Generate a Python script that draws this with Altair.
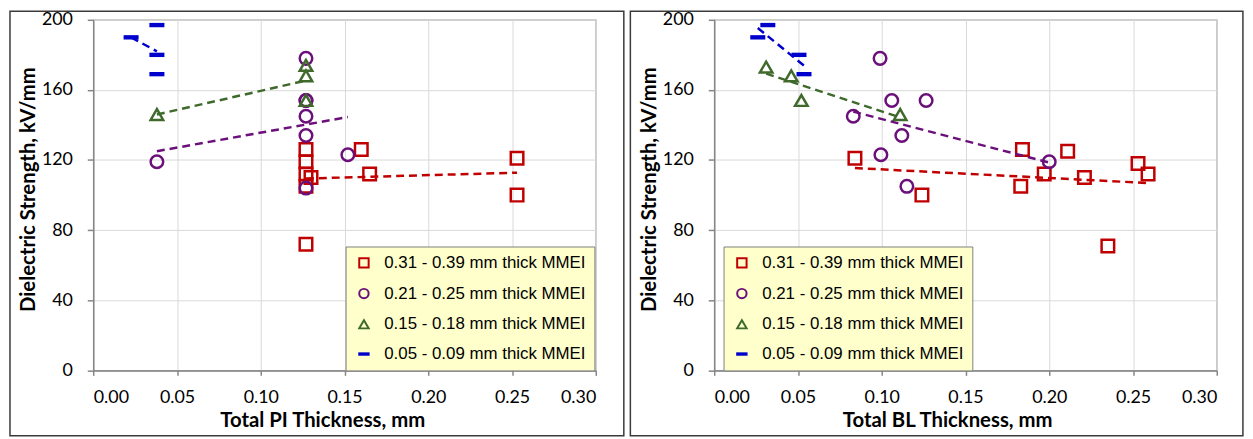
import altair as alt
import pandas as pd

series = ["0.31 - 0.39 mm thick MMEI", "0.21 - 0.25 mm thick MMEI",
          "0.15 - 0.18 mm thick MMEI", "0.05 - 0.09 mm thick MMEI"]
colors = ["#C00000", "#6B0F7A", "#3F6A2C", "#0000CC"]
dash_path = "M-1,-0.15L1,-0.15L1,0.15L-1,0.15Z"
shapes = ["square", "circle", "triangle-up", dash_path]

# Left panel: Total PI thickness
pi_red_x = [0.127, 0.127, 0.127, 0.127, 0.127, 0.130, 0.160, 0.165, 0.253, 0.253]
pi_red_y = [126, 119, 112, 105, 72, 110, 126, 112, 121, 100]
pi_pur_x = [0.038, 0.127, 0.127, 0.127, 0.127, 0.127, 0.127, 0.152]
pi_pur_y = [119, 178, 154, 154, 145, 134, 104, 123]
pi_grn_x = [0.038, 0.127, 0.127, 0.127]
pi_grn_y = [146, 174, 168, 154]
pi_blu_x = [0.0226, 0.038, 0.038, 0.038]
pi_blu_y = [190, 197, 180, 169]

# Right panel: Total BL thickness
bl_red_x = [0.084, 0.124, 0.184, 0.183, 0.197, 0.211, 0.221, 0.235, 0.253, 0.259]
bl_red_y = [121, 100, 126, 105, 112, 125, 110, 71, 118, 112]
bl_pur_x = [0.083, 0.099, 0.0995, 0.106, 0.112, 0.115, 0.1265, 0.200]
bl_pur_y = [145, 178, 123, 154, 134, 105, 154, 119]
bl_grn_x = [0.031, 0.046, 0.052, 0.111]
bl_grn_y = [173, 168, 154, 146]
bl_blu_x = [0.026, 0.032, 0.0506, 0.0536]
bl_blu_y = [190, 197, 180, 169]

x_ticks = [0.0, 0.05, 0.10, 0.15, 0.20, 0.25, 0.30]
y_ticks = [0, 40, 80, 120, 160, 200]

W, H = 507, 353.7


def frame_df(groups):
    rows = []
    for name, xs, ys in groups:
        for xv, yv in zip(xs, ys):
            rows.append({"x": xv, "y": yv, "series": name})
    return pd.DataFrame(rows)


def panel(df, xtitle, legend_x, title_x, frame_x1, frame_x2):
    xs = alt.X("x:Q", title=xtitle,
               scale=alt.Scale(domain=[0, 0.30], nice=False, zero=False),
               axis=alt.Axis(values=x_ticks, format=".2f", tickSize=5,
                             labelPadding=27, labelBaseline="alphabetic",
                             titleX=title_x, titleY=57, titleBaseline="alphabetic"))
    ys = alt.Y("y:Q", title="Dielectric Strength, kV/mm",
               scale=alt.Scale(domain=[0, 200], nice=False),
               axis=alt.Axis(values=y_ticks, tickSize=6, labelPadding=15,
                             titleX=-59.4, titleY=H / 2 - 6, titleBaseline="alphabetic",
                             titleAngle=270))
    leg = alt.Legend(title=None, orient="none", legendX=legend_x, legendY=228.7,
                     fillColor="#FFFFCC", strokeColor="#7F7F7F", padding=8,
                     labelFont="Liberation Sans", labelFontSize=17, labelColor="black",
                     symbolSize=90, symbolStrokeWidth=2, rowPadding=12,
                     labelOffset=12, symbolOffset=2, labelLimit=400)
    base = alt.Chart(df)
    pts = base.mark_point(filled=False, size=160, strokeWidth=2.5, opacity=1).encode(
        x=xs, y=ys,
        color=alt.Color("series:N", scale=alt.Scale(domain=series, range=colors), legend=leg),
        shape=alt.Shape("series:N", scale=alt.Scale(domain=series, range=shapes), legend=leg),
    )
    lines = base.transform_regression("x", "y", groupby=["series"]).mark_line(
        strokeDash=[8, 5], strokeWidth=2.5).encode(
        x="x:Q", y="y:Q",
        stroke=alt.Stroke("series:N", scale=alt.Scale(domain=series, range=colors), legend=None),
    )
    frame = alt.Chart(pd.DataFrame({"a": [0]})).mark_rect(
        fill="white", fillOpacity=0, stroke="#3A3A3A", strokeWidth=1.5).encode(
        x=alt.value(frame_x1), x2=alt.value(frame_x2),
        y=alt.value(-8.55), y2=alt.value(419.7))
    return alt.layer(frame, pts, lines).properties(width=W, height=H)


left_df = frame_df([(series[0], pi_red_x, pi_red_y), (series[1], pi_pur_x, pi_pur_y),
                    (series[2], pi_grn_x, pi_grn_y), (series[3], pi_blu_x, pi_blu_y)])
right_df = frame_df([(series[0], bl_red_x, bl_red_y), (series[1], bl_pur_x, bl_pur_y),
                     (series[2], bl_grn_x, bl_grn_y), (series[3], bl_blu_x, bl_blu_y)])

left = panel(left_df, "Total PI Thickness, mm", 254.6, 231, -84, 535.3)
right = panel(right_df, "Total BL Thickness, mm", 9.4, 235, -84.6, 533.4)

chart = alt.hconcat(left, right, spacing=3.5).resolve_scale(
    color="independent", shape="independent", stroke="independent"
).properties(padding=0).configure_view(
    stroke="#9A9A9A", strokeWidth=1.2
).configure_axis(
    labelFont="Lato", labelFontSize=18, labelColor="#000000",
    titleFont="Lato", titleFontSize=20.5, titleFontWeight="bold", titleColor="#000000",
    domainColor="#868686", domainWidth=1.5, tickColor="#868686", tickWidth=1.5,
    gridColor="#D9D9D9", gridWidth=1,
)

chart.save("out.html", embed_options={"renderer": "svg", "actions": False})
